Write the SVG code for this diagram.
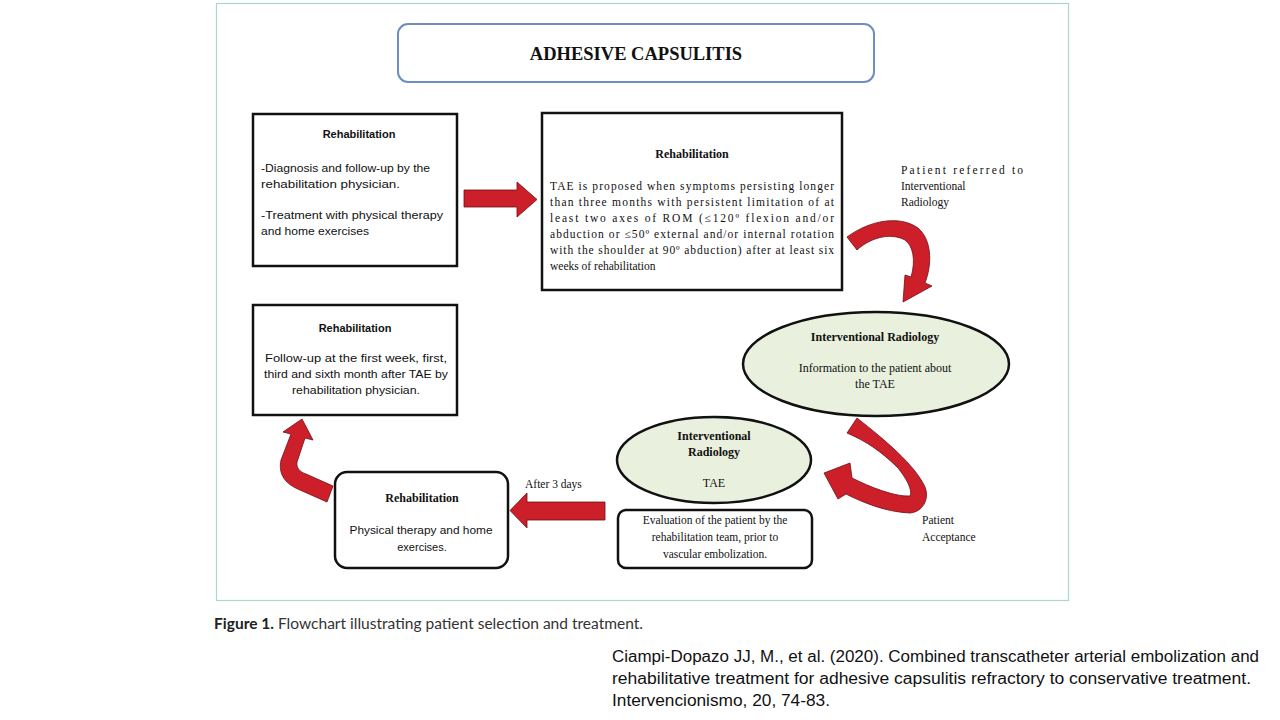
<svg xmlns="http://www.w3.org/2000/svg" width="1280" height="720" viewBox="0 0 1280 720">
<style>
.serif{font-family:"Liberation Serif","Times New Roman",serif;fill:#111;}
.sans{font-family:"Liberation Sans",Arial,sans-serif;fill:#111;}
.box{fill:#fff;stroke:#111;stroke-width:2.5;}
.ell{fill:#e9f0dd;stroke:#111;stroke-width:2.5;}
.arrow{fill:#cc1f2a;stroke:#6e0e14;stroke-width:0.8;stroke-linejoin:round;}
.t11{font-size:11.5px;}
.b{font-weight:bold;}
</style>
<rect x="0" y="0" width="1280" height="720" fill="#fff"/>
<rect x="216.5" y="3.5" width="852" height="597" fill="#fff" stroke="#a6d9c6" stroke-width="1.2"/>

<g id="title">
<rect x="398" y="24" width="476" height="58" rx="10" fill="#fff" stroke="#6d8fc0" stroke-width="2"/>
<text x="636" y="60" text-anchor="middle" class="serif b" font-size="18.5">ADHESIVE CAPSULITIS</text>
</g>

<g id="rehab1">
<rect x="253" y="114" width="204" height="152" class="box"/>
<text x="359" y="138" text-anchor="middle" class="sans b" font-size="11">Rehabilitation</text>
<text x="261" y="172" class="sans" font-size="11" textLength="169" lengthAdjust="spacingAndGlyphs">-Diagnosis and follow-up by the</text>
<text x="261" y="188" class="sans" font-size="11" textLength="139" lengthAdjust="spacingAndGlyphs">rehabilitation physician.</text>
<text x="261" y="219" class="sans" font-size="11" textLength="182" lengthAdjust="spacingAndGlyphs">-Treatment with physical  therapy</text>
<text x="261" y="235" class="sans" font-size="11" textLength="108" lengthAdjust="spacingAndGlyphs">and home exercises</text>
</g>

<g id="rehab2">
<rect x="542" y="113" width="300" height="177" class="box"/>
<text x="692" y="158" text-anchor="middle" class="serif b" font-size="12">Rehabilitation</text>
<g class="serif t11">
<text x="550" y="190" textLength="284" lengthAdjust="spacing">TAE is proposed when symptoms persisting longer</text>
<text x="550" y="206" textLength="284" lengthAdjust="spacing">than three months with persistent limitation of at</text>
<text x="550" y="222" textLength="284" lengthAdjust="spacing">least two axes of ROM (≤120º flexion and/or</text>
<text x="550" y="238" textLength="284" lengthAdjust="spacing">abduction or ≤50º external and/or internal rotation</text>
<text x="550" y="254" textLength="284" lengthAdjust="spacing">with the shoulder at 90º abduction) after at least six</text>
<text x="550" y="270">weeks of rehabilitation</text>
</g>
</g>

<g id="ir1">
<ellipse cx="876" cy="364" rx="133" ry="52" class="ell"/>
<text x="875" y="341" text-anchor="middle" class="serif b" font-size="12">Interventional Radiology</text>
<text x="875" y="372" text-anchor="middle" class="serif" font-size="12">Information to the patient about</text>
<text x="875" y="388" text-anchor="middle" class="serif" font-size="12">the TAE</text>
</g>

<g id="ir2">
<ellipse cx="714" cy="460" rx="97" ry="43" class="ell"/>
<text x="714" y="440" text-anchor="middle" class="serif b" font-size="12">Interventional</text>
<text x="714" y="456" text-anchor="middle" class="serif b" font-size="12">Radiology</text>
<text x="714" y="487" text-anchor="middle" class="serif" font-size="12">TAE</text>
</g>

<g id="evaluation">
<rect x="618" y="510" width="194" height="58" rx="8" class="box"/>
<text x="715" y="524" text-anchor="middle" class="serif t11">Evaluation of the patient by the</text>
<text x="715" y="541" text-anchor="middle" class="serif t11">rehabilitation team, prior to</text>
<text x="715" y="558" text-anchor="middle" class="serif t11">vascular embolization.</text>
</g>

<g id="rehab4">
<rect x="335" y="472" width="173" height="96" rx="12" class="box"/>
<text x="422" y="502" text-anchor="middle" class="serif b" font-size="12">Rehabilitation</text>
<text x="421" y="534" text-anchor="middle" class="sans" font-size="11" textLength="143" lengthAdjust="spacingAndGlyphs">Physical therapy and home</text>
<text x="422" y="551" text-anchor="middle" class="sans" font-size="11">exercises.</text>
</g>

<g id="rehab3">
<rect x="253" y="305" width="204" height="110" class="box"/>
<text x="355" y="332" text-anchor="middle" class="sans b" font-size="11">Rehabilitation</text>
<text x="356" y="362" text-anchor="middle" class="sans" font-size="11" textLength="182" lengthAdjust="spacingAndGlyphs">Follow-up at the first week, first,</text>
<text x="356" y="378" text-anchor="middle" class="sans" font-size="11" textLength="184" lengthAdjust="spacingAndGlyphs">third and sixth month  after TAE by</text>
<text x="356" y="394" text-anchor="middle" class="sans" font-size="11" textLength="128" lengthAdjust="spacingAndGlyphs">rehabilitation physician.</text>
</g>

<g id="connectors">
<path class="arrow" d="M464,190 L517,190 L517,182 L537,199.5 L517,217 L517,207 L464,207 Z"/>
<path class="arrow" d="M847,237 C870,220 900,215 918,228 C931,239 933,262 925,283 L932,286 L903,302 L905,275 L911,277 C916,260 913,246 905,240 C890,232 870,238 857,250 Z"/>
<path class="arrow" d="M857,418 C885,440 915,465 925,487 C930,500 922,512 910,513 C885,512 862,502 846,494 L838,499 L824,473 L850,463 L852,478 C870,487 895,497 910,496 C913,490 906,478 898,468 C882,452 866,441 847,433 Z"/>
<path class="arrow" d="M605,502 L527,502 L527,493 L510,510.5 L527,528 L527,520 L605,520 Z"/>
<path class="arrow" d="M302,419 L313,440 L305,438 L297,462 C296,468 300,472 306,474 L333,486 L327,502 L300,490 C285,484 278,474 281,460 L291,434 L283,432 Z"/>
</g>

<g id="labels" class="serif t11">
<text x="901" y="174" textLength="122" lengthAdjust="spacing">Patient referred to</text>
<text x="901" y="190">Interventional</text>
<text x="901" y="206">Radiology</text>
<text x="922" y="524">Patient</text>
<text x="922" y="541">Acceptance</text>
<text x="525" y="488">After 3 days</text>
</g>

<g id="caption">
<text x="214" y="629" font-family="Lato,'Open Sans',sans-serif" font-size="14.5" fill="#333" textLength="429" lengthAdjust="spacingAndGlyphs"><tspan font-weight="bold" fill="#222">Figure 1.</tspan> Flowchart illustrating patient selection and treatment.</text>
</g>

<g id="citation" font-family="'Liberation Sans',Arial,sans-serif" font-size="16" fill="#111">
<text x="612" y="662" textLength="647" lengthAdjust="spacingAndGlyphs">Ciampi-Dopazo JJ, M., et al. (2020). Combined transcatheter arterial embolization and</text>
<text x="612" y="684" textLength="639" lengthAdjust="spacingAndGlyphs">rehabilitative treatment for adhesive capsulitis refractory to conservative treatment.</text>
<text x="612" y="706" textLength="218" lengthAdjust="spacingAndGlyphs">Intervencionismo, 20, 74-83.</text>
</g>
</svg>
